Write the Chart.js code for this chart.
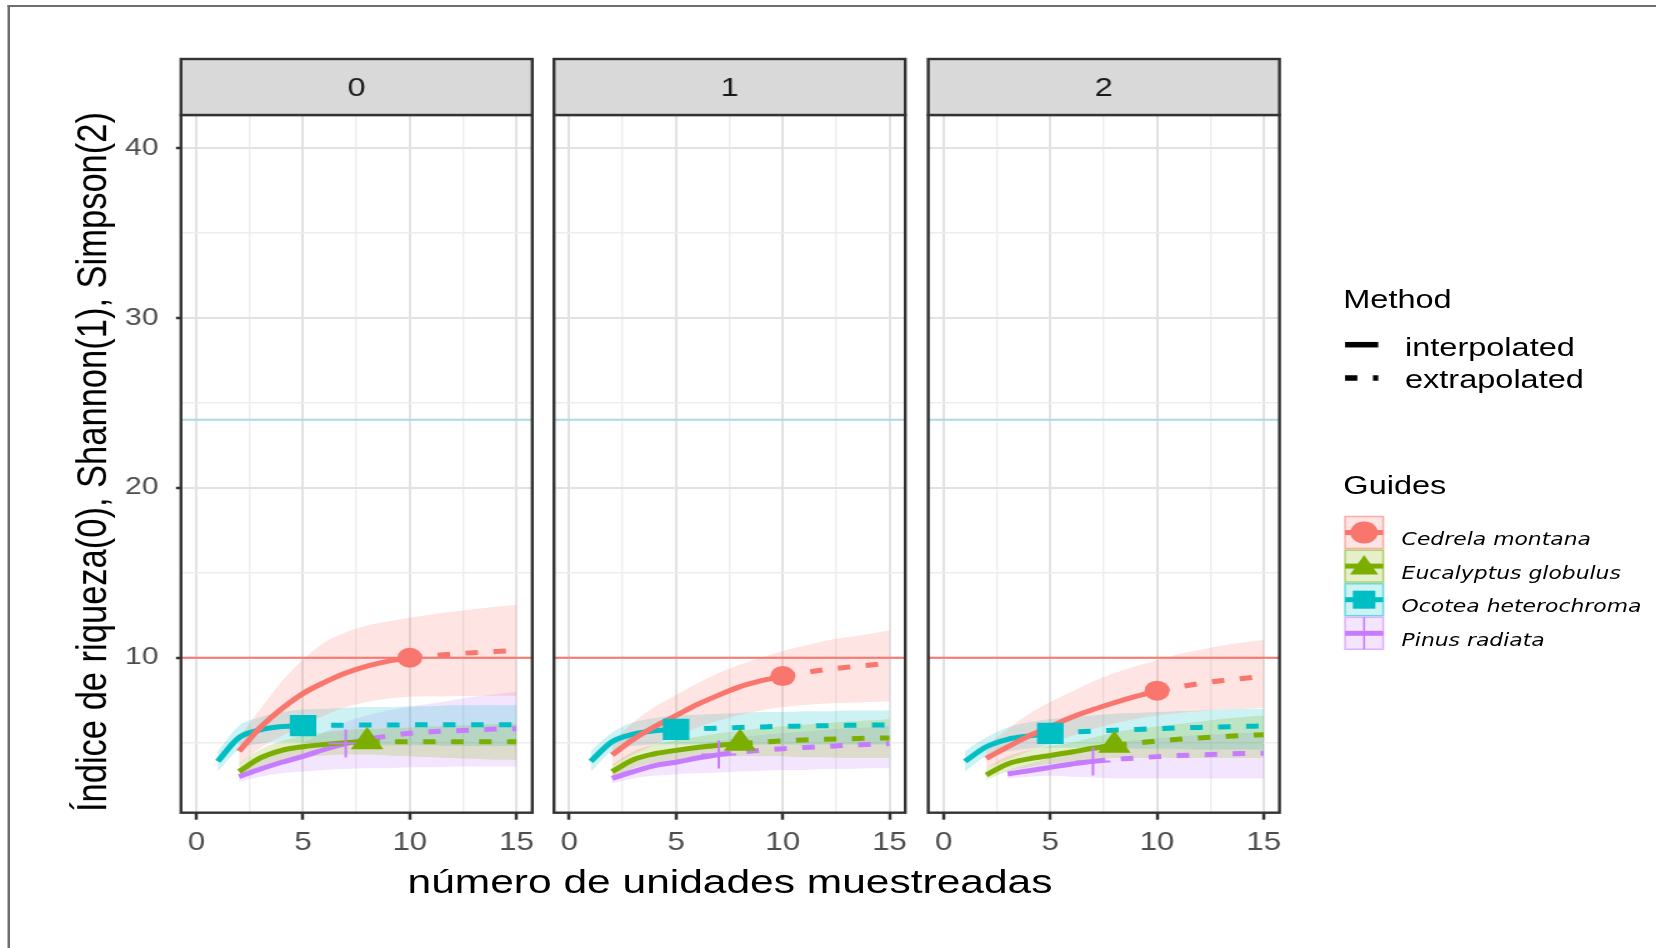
<!DOCTYPE html>
<html lang="es">
<head>
<meta charset="utf-8">
<title>Curvas de rarefacción</title>
<script src="https://cdn.jsdelivr.net/npm/chart.js@4.4.1/dist/chart.umd.min.js"></script>
<style>
  html, body { margin: 0; padding: 0; background: #fff; overflow: hidden; }
  /* the reference is stretched horizontally, so the whole stage is drawn narrower and widened */
  #stage { position: absolute; left: 0; top: 0; width: 1325px; height: 948px;
           transform: scaleX(1.25); transform-origin: 0 0;
           font-family: "Liberation Sans", Arial, sans-serif; }
  #stage canvas { position: absolute; left: 0; top: 0; }
  .frame { position: absolute; left: 6px; top: 5px; width: 1400px; height: 1000px;
           border-left: 2px solid #6e6e6e; border-top: 2px solid #6e6e6e; }
  .txt { position: absolute; white-space: nowrap; color: #000; line-height: 1; }
  .title { font-size: 34px; transform: translate(-50%, -50%); }
  .leg { font-size: 26px; }
  .sp { font-family: "DejaVu Sans", sans-serif; font-style: italic; font-size: 17.5px; }
</style>
</head>
<body>
<div id="stage">
  <div class="frame"></div>
  <canvas id="p0" width="1325" height="948"></canvas>
  <canvas id="p1" width="1325" height="948"></canvas>
  <canvas id="p2" width="1325" height="948"></canvas>
  <div class="txt title" style="left:72.5px; top:462px; font-size:34.5px; transform: translate(-50%, -50%) rotate(-90deg);">Índice de riqueza(0), Shannon(1), Simpson(2)</div>
  <div class="txt title" style="left:584px; top:881px;">número de unidades muestreadas</div>
  <div id="legendText"></div>
</div>
<script>
// ---- data ----
const panels = ['0', '1', '2'];
const species = ['Cedrela montana', 'Eucalyptus globulus', 'Ocotea heterochroma', 'Pinus radiata'];
const methods = ['interpolated', 'extrapolated'];
const sampleSizes = [1, 2, 3, 4, 5, 6, 7, 8, 9, 10, 11, 12, 13, 14, 15];
const observedSize = [10, 8, 5, 7];
const xTicks = [0, 5, 10, 15];
const xMinor = [2.5, 7.5, 12.5];
const yTicks = [10, 20, 30, 40];
const yMinor = [5, 15, 25, 35];
const guideLines = [10, 24];

// one row per panel (order q = 0, 1, 2), one value per sample size
const cedrelaEst = [
  [null, 4.5, 5.9, 7.0, 7.9, 8.55, 9.1, 9.5, 9.8, 10.0, 10.12, 10.22, 10.3, 10.36, 10.42],
  [null, 4.28, 5.2, 5.95, 6.6, 7.25, 7.8, 8.3, 8.65, 8.92, 9.12, 9.3, 9.44, 9.56, 9.67],
  [null, 4.08, 4.75, 5.4, 5.94, 6.5, 6.95, 7.35, 7.72, 8.06, 8.28, 8.48, 8.65, 8.78, 8.9]
];
const cedrelaLow = [
  [null, 3.7, 4.7, 5.4, 6.0, 6.6, 7.1, 7.4, 7.6, 7.7, 7.72, 7.74, 7.75, 7.76, 7.76],
  [null, 3.6, 4.3, 4.9, 5.4, 5.9, 6.3, 6.65, 6.9, 7.1, 7.2, 7.3, 7.35, 7.4, 7.42],
  [null, 3.5, 4.0, 4.5, 4.95, 5.4, 5.8, 6.15, 6.4, 6.6, 6.75, 6.85, 6.95, 7.0, 7.05]
];
const cedrelaHigh = [
  [null, 5.3, 7.0, 8.6, 9.9, 10.9, 11.5, 11.9, 12.15, 12.35, 12.55, 12.7, 12.85, 13.0, 13.1],
  [null, 5.0, 6.2, 7.1, 7.8, 8.5, 9.1, 9.6, 10.0, 10.4, 10.7, 11.0, 11.2, 11.4, 11.6],
  [null, 4.8, 5.8, 6.7, 7.4, 8.0, 8.6, 9.1, 9.5, 9.85, 10.2, 10.45, 10.7, 10.9, 11.05]
];
const eucalyptusEst = [
  [null, 3.3, 4.1, 4.55, 4.76, 4.9, 5.0, 5.05, 5.05, 5.05, 5.05, 5.05, 5.05, 5.05, 5.05],
  [null, 3.3, 4.0, 4.35, 4.55, 4.72, 4.85, 4.96, 5.03, 5.1, 5.16, 5.2, 5.23, 5.26, 5.28],
  [null, 3.1, 3.75, 4.05, 4.25, 4.45, 4.67, 4.85, 4.97, 5.1, 5.2, 5.28, 5.35, 5.42, 5.47]
];
const eucalyptusLow = [
  [null, 2.9, 3.6, 3.95, 4.15, 4.25, 4.3, 4.3, 4.25, 4.2, 4.15, 4.1, 4.05, 4.0, 4.0],
  [null, 2.9, 3.5, 3.8, 3.95, 4.05, 4.15, 4.2, 4.2, 4.2, 4.15, 4.15, 4.1, 4.1, 4.1],
  [null, 2.8, 3.3, 3.55, 3.75, 3.9, 4.0, 4.1, 4.1, 4.1, 4.1, 4.1, 4.1, 4.1, 4.1]
];
const eucalyptusHigh = [
  [null, 3.8, 4.6, 5.1, 5.4, 5.6, 5.75, 5.8, 5.85, 5.9, 5.95, 6.0, 6.05, 6.1, 6.1],
  [null, 3.7, 4.5, 4.9, 5.15, 5.35, 5.55, 5.7, 5.85, 5.95, 6.05, 6.15, 6.25, 6.3, 6.4],
  [null, 3.5, 4.2, 4.55, 4.8, 5.0, 5.3, 5.6, 5.8, 5.95, 6.1, 6.25, 6.4, 6.5, 6.6]
];
const ocoteaEst = [
  [3.9, 5.3, 5.75, 5.95, 6.0, 6.02, 6.03, 6.04, 6.04, 6.05, 6.05, 6.05, 6.05, 6.05, 6.05],
  [3.9, 5.06, 5.5, 5.7, 5.78, 5.82, 5.86, 5.9, 5.93, 5.96, 5.98, 6.0, 6.02, 6.04, 6.05],
  [3.9, 4.76, 5.2, 5.4, 5.55, 5.62, 5.68, 5.73, 5.78, 5.83, 5.87, 5.9, 5.93, 5.96, 5.98]
];
const ocoteaLow = [
  [3.3, 4.6, 4.95, 5.05, 5.0, 4.95, 4.9, 4.9, 4.85, 4.85, 4.85, 4.8, 4.8, 4.8, 4.8],
  [3.3, 4.5, 4.8, 4.9, 4.9, 4.9, 4.9, 4.9, 4.9, 4.9, 4.9, 4.9, 4.9, 4.9, 4.9],
  [3.3, 4.2, 4.5, 4.65, 4.7, 4.7, 4.7, 4.7, 4.65, 4.65, 4.65, 4.6, 4.6, 4.6, 4.6]
];
const ocoteaHigh = [
  [4.5, 6.0, 6.5, 6.8, 6.95, 7.0, 7.05, 7.1, 7.1, 7.15, 7.15, 7.2, 7.2, 7.2, 7.2],
  [4.5, 5.6, 6.2, 6.45, 6.6, 6.65, 6.7, 6.75, 6.8, 6.8, 6.85, 6.85, 6.9, 6.9, 6.9],
  [4.5, 5.3, 5.9, 6.2, 6.4, 6.5, 6.6, 6.7, 6.75, 6.8, 6.85, 6.9, 6.95, 7.0, 7.0]
];
const pinusEst = [
  [null, 3.0, 3.45, 3.85, 4.2, 4.6, 4.95, 5.2, 5.4, 5.55, 5.65, 5.7, 5.75, 5.8, 5.82],
  [null, 2.9, 3.3, 3.65, 3.85, 4.1, 4.3, 4.45, 4.55, 4.65, 4.72, 4.78, 4.84, 4.9, 4.95],
  [null, null, 3.16, 3.35, 3.55, 3.75, 3.9, 4.02, 4.1, 4.18, 4.24, 4.28, 4.32, 4.36, 4.38]
];
const pinusLow = [
  [null, 2.7, 3.0, 3.2, 3.3, 3.4, 3.45, 3.5, 3.5, 3.55, 3.55, 3.6, 3.6, 3.6, 3.6],
  [null, 2.6, 2.9, 3.05, 3.15, 3.2, 3.25, 3.3, 3.35, 3.4, 3.4, 3.45, 3.45, 3.5, 3.5],
  [null, null, 2.9, 3.0, 3.05, 3.0, 2.95, 2.9, 2.9, 2.9, 2.9, 2.9, 2.9, 2.9, 2.9]
];
const pinusHigh = [
  [null, 3.3, 4.0, 4.5, 5.0, 5.6, 6.2, 6.6, 6.9, 7.1, 7.3, 7.5, 7.7, 7.85, 8.0],
  [null, 3.2, 3.8, 4.3, 4.6, 4.9, 5.1, 5.3, 5.45, 5.55, 5.65, 5.75, 5.85, 5.9, 6.0],
  [null, null, 3.4, 3.75, 4.1, 4.45, 4.8, 5.0, 5.15, 5.25, 5.35, 5.45, 5.5, 5.55, 5.6]
];

// ---- styles and layout ----
const speciesColors = ['#F8766D', '#7CAE00', '#00BFC4', '#C77CFF'];
const speciesShapes = ['circle', 'triangle', 'rect', 'cross'];
const markerRadius = [10, 15, 15, 14];
const guideColors = ['#F8766D', '#ADD8E6'];

const xMin = -0.72, xMax = 15.74, yMin = 0.88, yMax = 41.94;
const W = 1325, H = 948;
const panelLeft = [144.8, 443.2, 742.6];
const panelWidth = 281;
const panelTop = 115, panelBottom = 812.7, stripTop = 59;
const axisRoom = 60;   // fixed room kept for tick labels
const tickFont = { family: 'Liberation Sans', size: 25 };

const est = [cedrelaEst, eucalyptusEst, ocoteaEst, pinusEst];
const low = [cedrelaLow, eucalyptusLow, ocoteaLow, pinusLow];
const high = [cedrelaHigh, eucalyptusHigh, ocoteaHigh, pinusHigh];

function rgba(hex, a) {
  const n = parseInt(hex.slice(1), 16);
  return `rgba(${n >> 16}, ${(n >> 8) & 255}, ${n & 255}, ${a})`;
}

function points(values, from, to) {
  const out = [];
  sampleSizes.forEach((n, i) => {
    if (values[i] !== null && n >= from && n <= to) out.push({ x: n, y: values[i] });
  });
  return out;
}

function panelDatasets(q) {
  const ds = [];
  species.forEach((name, s) => {
    const m = observedSize[s];
    ds.push({
      data: [{ x: m, y: est[s][q][m - 1] }], showLine: false,
      pointStyle: speciesShapes[s], pointRadius: markerRadius[s],
      pointBackgroundColor: speciesColors[s], pointBorderColor: speciesColors[s],
      pointBorderWidth: s === 3 ? 2 : 0, order: 0
    });
    ds.push({
      data: points(est[s][q], 0, m), borderColor: speciesColors[s], borderWidth: 5,
      pointRadius: 0, cubicInterpolationMode: 'monotone', fill: false, order: 10
    });
    ds.push({
      data: points(est[s][q], m, 15), borderColor: speciesColors[s], borderWidth: 5,
      borderDash: [10, 12.4], pointRadius: 0, cubicInterpolationMode: 'monotone', fill: false, order: 10
    });
  });
  guideLines.forEach((v, g) => {
    ds.push({
      data: [{ x: xMin, y: v }, { x: xMax, y: v }], borderColor: guideColors[g],
      borderWidth: 2, pointRadius: 0, fill: false, order: 20
    });
  });
  species.forEach((name, s) => {
    ds.push({
      data: points(high[s][q], 0, 15), borderColor: 'rgba(0,0,0,0)', borderWidth: 0,
      backgroundColor: rgba(speciesColors[s], 0.2), fill: '+1', pointRadius: 0,
      cubicInterpolationMode: 'monotone', order: 30
    });
    ds.push({
      data: points(low[s][q], 0, 15), borderColor: 'rgba(0,0,0,0)', borderWidth: 0,
      fill: false, pointRadius: 0, cubicInterpolationMode: 'monotone', order: 30
    });
  });
  return ds;
}

const panelFrame = {
  id: 'panelFrame',
  afterDatasetsDraw(chart, args, opts) {
    const { ctx, chartArea: a } = chart;
    const w = a.right - a.left;
    ctx.save();
    ctx.lineWidth = 2.4;
    ctx.strokeStyle = '#333333';
    ctx.strokeRect(a.left, a.top, w, a.bottom - a.top);
    ctx.fillStyle = '#d9d9d9';
    ctx.fillRect(a.left, stripTop, w, a.top - stripTop);
    ctx.strokeRect(a.left, stripTop, w, a.top - stripTop);
    ctx.fillStyle = '#1a1a1a';
    ctx.font = '26px "Liberation Sans"';
    ctx.textAlign = 'center';
    ctx.textBaseline = 'middle';
    ctx.fillText(opts.label, a.left + w / 2, (stripTop + a.top) / 2 + 2);
    ctx.restore();
  }
};

// legend keys, drawn on the last canvas
const keyLeft = 1076, keyWidth = 30.6;
const methodKeyY = [344.7, 378];
const guideKeyTop = 516.5, guideKeyPitch = 33.6, guideKeyHeight = 32;

const legendKeys = {
  id: 'legendKeys',
  afterDraw(chart) {
    const ctx = chart.ctx;
    ctx.save();
    ctx.strokeStyle = '#000';
    ctx.lineWidth = 5.5;
    methodKeyY.forEach((y, k) => {
      ctx.setLineDash(k === 0 ? [] : [9.9, 12.5]);
      ctx.beginPath();
      ctx.moveTo(keyLeft, y);
      ctx.lineTo(keyLeft + keyWidth - 4, y);
      ctx.stroke();
    });
    ctx.setLineDash([]);
    species.forEach((name, s) => {
      const top = guideKeyTop + s * guideKeyPitch;
      const cx = keyLeft + keyWidth / 2, cy = top + guideKeyHeight / 2;
      const col = speciesColors[s];
      ctx.fillStyle = rgba(col, 0.2);
      ctx.fillRect(keyLeft, top, keyWidth, guideKeyHeight);
      ctx.strokeStyle = rgba(col, 0.55);
      ctx.lineWidth = 1.5;
      ctx.strokeRect(keyLeft, top, keyWidth, guideKeyHeight);
      ctx.strokeStyle = col;
      ctx.lineWidth = 5;
      ctx.beginPath();
      ctx.moveTo(keyLeft, cy);
      ctx.lineTo(keyLeft + keyWidth, cy);
      ctx.stroke();
      ctx.fillStyle = col;
      ctx.beginPath();
      if (speciesShapes[s] === 'circle') {
        ctx.arc(cx, cy, 11, 0, Math.PI * 2);
        ctx.fill();
      } else if (speciesShapes[s] === 'triangle') {
        const r = 13, yc = cy + 2;
        ctx.moveTo(cx, yc - r);
        ctx.lineTo(cx + r * 0.866, yc + r / 2);
        ctx.lineTo(cx - r * 0.866, yc + r / 2);
        ctx.closePath();
        ctx.fill();
      } else if (speciesShapes[s] === 'rect') {
        ctx.rect(cx - 9, cy - 9, 18, 18);
        ctx.fill();
      } else {
        ctx.lineWidth = 1.5;
        ctx.moveTo(cx, top);
        ctx.lineTo(cx, top + guideKeyHeight);
        ctx.moveTo(keyLeft, cy);
        ctx.lineTo(keyLeft + keyWidth, cy);
        ctx.stroke();
      }
    });
    ctx.restore();
  }
};

function makePanel(i) {
  const isMajorX = v => xTicks.includes(v);
  const isMajorY = v => yTicks.includes(v);
  const showY = i === 0;
  const plugins = [panelFrame];
  if (i === panels.length - 1) plugins.push(legendKeys);
  return new Chart(document.getElementById('p' + i), {
    type: 'line',
    data: { datasets: panelDatasets(i) },
    plugins: plugins,
    options: {
      responsive: false,
      animation: false,
      events: [],
      layout: {
        padding: {
          left: panelLeft[i] - axisRoom,
          right: W - panelLeft[i] - panelWidth,
          top: panelTop,
          bottom: H - panelBottom - axisRoom
        }
      },
      scales: {
        x: {
          type: 'linear', min: xMin, max: xMax,
          afterBuildTicks: sc => { sc.ticks = xTicks.concat(xMinor).sort((a, b) => a - b).map(v => ({ value: v })); },
          afterFit: sc => { sc.height = axisRoom; },
          border: { display: false },
          grid: {
            color: c => isMajorX(c.tick.value) ? '#e2e2e2' : '#ededed',
            lineWidth: c => isMajorX(c.tick.value) ? 2 : 1.4,
            tickLength: 7, tickWidth: 2.5,
            tickColor: c => isMajorX(c.tick.value) ? '#333333' : 'rgba(0,0,0,0)'
          },
          ticks: {
            autoSkip: false, maxRotation: 0, padding: 8, color: '#4d4d4d', font: tickFont,
            callback: v => isMajorX(v) ? String(v) : ''
          }
        },
        y: {
          type: 'linear', min: yMin, max: yMax,
          afterBuildTicks: sc => { sc.ticks = yMinor.concat(yTicks).sort((a, b) => a - b).map(v => ({ value: v })); },
          afterFit: sc => { sc.width = axisRoom; },
          border: { display: false },
          grid: {
            color: c => isMajorY(c.tick.value) ? '#e2e2e2' : '#ededed',
            lineWidth: c => isMajorY(c.tick.value) ? 2 : 1.4,
            drawTicks: showY, tickLength: 4, tickWidth: 2.5,
            tickColor: c => isMajorY(c.tick.value) ? '#333333' : 'rgba(0,0,0,0)'
          },
          ticks: {
            display: showY, autoSkip: false, padding: 14, color: '#4d4d4d',
            font: { family: 'Liberation Sans', size: 24 },
            callback: v => isMajorY(v) ? String(v) : ''
          }
        }
      },
      plugins: {
        legend: { display: false },
        tooltip: { enabled: false },
        panelFrame: { label: panels[i] }
      }
    }
  });
}

panels.forEach((p, i) => makePanel(i));

// legend text
const legendBox = document.getElementById('legendText');
function addText(text, cls, left, top) {
  const d = document.createElement('div');
  d.className = 'txt ' + cls;
  d.style.left = left + 'px';
  d.style.top = top + 'px';
  d.textContent = text;
  legendBox.appendChild(d);
}
addText('Method', 'leg', 1074.6, 286);
methods.forEach((m, k) => addText(m, 'leg', 1124, 333.7 + k * 32.6));
addText('Guides', 'leg', 1074.7, 472);
species.forEach((s, k) => addText(s, 'sp', 1121.3, 531.2 + k * guideKeyPitch));
</script>
</body>
</html>
